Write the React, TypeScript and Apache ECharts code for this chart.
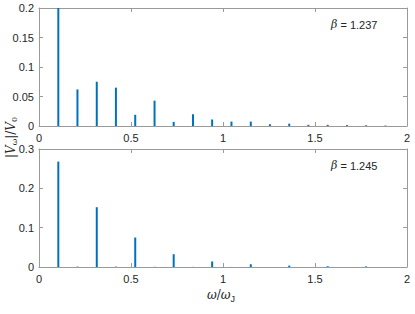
import React, { useEffect, useRef } from "react";
import * as echarts from "echarts";

const freqs = [0.105, 0.209, 0.314, 0.418, 0.523, 0.628, 0.732, 0.837, 0.941, 1.046, 1.151, 1.255, 1.36, 1.464, 1.569, 1.674, 1.778, 1.883];
const ampsTop = [0.2, 0.062, 0.075, 0.065, 0.019, 0.043, 0.007, 0.02, 0.011, 0.0075, 0.0075, 0.003, 0.004, 0.002, 0.002, 0.0015, 0.0012, 0.0008];
const ampsBottom = [0.268, 0.001, 0.152, 0.001, 0.075, 0.0005, 0.0325, 0.0003, 0.014, 0.0002, 0.007, 0, 0.0036, 0, 0.002, 0, 0.0015, 0];
const xTicks = ["0", "0.5", "1", "1.5", "2"];
const betaTop = "1.237";
const betaBottom = "1.245";

const FONT = "Liberation Sans";
const TXT = "#262626";
const AX = "#9a9a9a";
const BLUE = "#0072BD";

function fmt(v: number) {
  return String(Number(v.toFixed(3)));
}

export default function App() {
  const ref = useRef<HTMLDivElement>(null);
  useEffect(() => {
    const chart = echarts.init(ref.current!, null, { renderer: "svg" });
    const grids = [
      { left: 39, top: 8, width: 368, height: 118 },
      { left: 39, top: 149, width: 368, height: 118 },
    ];
    const xAxes: any[] = [];
    const yAxes: any[] = [];
    [0, 1].forEach((g) => {
      xAxes.push({
        type: "value", gridIndex: g, min: 0, max: 2, interval: 0.5, position: "bottom",
        axisLine: { show: true, onZero: false, lineStyle: { color: AX, width: 1 } },
        axisTick: { show: true, inside: true, length: 4, lineStyle: { color: AX } },
        axisLabel: { show: true, color: TXT, fontFamily: FONT, fontSize: 11, margin: 6, formatter: (v: number) => xTicks[Math.round(v * 2)] },
        splitLine: { show: false },
      });
      xAxes.push({
        type: "value", gridIndex: g, min: 0, max: 2, interval: 0.5, position: "top",
        axisLine: { show: true, onZero: false, lineStyle: { color: AX, width: 1 } },
        axisTick: { show: true, inside: true, length: 4, lineStyle: { color: AX } },
        axisLabel: { show: false }, splitLine: { show: false },
      });
      const ymax = g === 0 ? 0.2 : 0.3;
      const yint = g === 0 ? 0.05 : 0.1;
      yAxes.push({
        type: "value", gridIndex: g, min: 0, max: ymax, interval: yint, position: "left",
        axisLine: { show: true, onZero: false, lineStyle: { color: AX, width: 1 } },
        axisTick: { show: true, inside: true, length: 4, lineStyle: { color: AX } },
        axisLabel: { show: true, color: TXT, fontFamily: FONT, fontSize: 11, margin: 5, formatter: fmt },
        splitLine: { show: false },
      });
      yAxes.push({
        type: "value", gridIndex: g, min: 0, max: ymax, interval: yint, position: "right",
        axisLine: { show: true, onZero: false, lineStyle: { color: AX, width: 1 } },
        axisTick: { show: true, inside: true, length: 4, lineStyle: { color: AX } },
        axisLabel: { show: false }, splitLine: { show: false },
      });
    });
    const renderItem = (params: any, api: any) => {
      const x = api.value(0);
      const y = api.value(1);
      const p0 = api.coord([x, 0]);
      const p1 = api.coord([x, y]);
      return {
        type: "rect",
        shape: { x: p0[0] - 1, y: p1[1], width: 2, height: Math.max(p0[1] - p1[1], 0) },
        style: { fill: BLUE },
      };
    };
    chart.setOption({
      animation: false,
      grid: grids,
      xAxis: xAxes,
      yAxis: yAxes,
      series: [
        { type: "custom", xAxisIndex: 0, yAxisIndex: 0, clip: true, renderItem, data: freqs.map((f, i) => [f, ampsTop[i]]) },
        { type: "custom", xAxisIndex: 2, yAxisIndex: 2, clip: true, renderItem, data: freqs.map((f, i) => [f, ampsBottom[i]]) },
      ],
      graphic: [
        {
          type: "text", left: 331, top: 19,
          style: {
            text: "{i|β} = " + betaTop, fill: TXT, fontFamily: FONT, fontSize: 11,
            rich: { i: { fontStyle: "italic", fontFamily: "DejaVu Serif", fontSize: 11, fill: TXT } },
          },
        },
        {
          type: "text", left: 331, top: 160,
          style: {
            text: "{i|β} = " + betaBottom, fill: TXT, fontFamily: FONT, fontSize: 11,
            rich: { i: { fontStyle: "italic", fontFamily: "DejaVu Serif", fontSize: 11, fill: TXT } },
          },
        },
        {
          type: "text", x: 4, y: 158, rotation: Math.PI / 2,
          style: {
            text: "|{v|V}{s|ω}|/{v|V}{s|0}", fill: TXT, fontFamily: "DejaVu Serif", fontSize: 12,
            rich: {
              v: { fontStyle: "italic", fontFamily: "DejaVu Serif", fontSize: 12, fill: TXT },
              s: { fontFamily: "DejaVu Serif", fontSize: 8, fill: TXT, padding: [6, 0, 0, 0] },
            },
          },
        },
        {
          type: "text", left: 207, top: 289,
          style: {
            text: "{v|ω}/{v|ω}{s|J}", fill: TXT, fontFamily: "DejaVu Serif", fontSize: 12,
            rich: {
              v: { fontStyle: "italic", fontFamily: "DejaVu Serif", fontSize: 12, fill: TXT },
              s: { fontFamily: FONT, fontSize: 9, fill: TXT, padding: [8, 0, 0, 0] },
            },
          },
        },
      ],
    });
    return () => chart.dispose();
  }, []);
  return <div ref={ref} style={{ position: "absolute", left: 0, top: 0, width: 415, height: 314 }} />;
}
